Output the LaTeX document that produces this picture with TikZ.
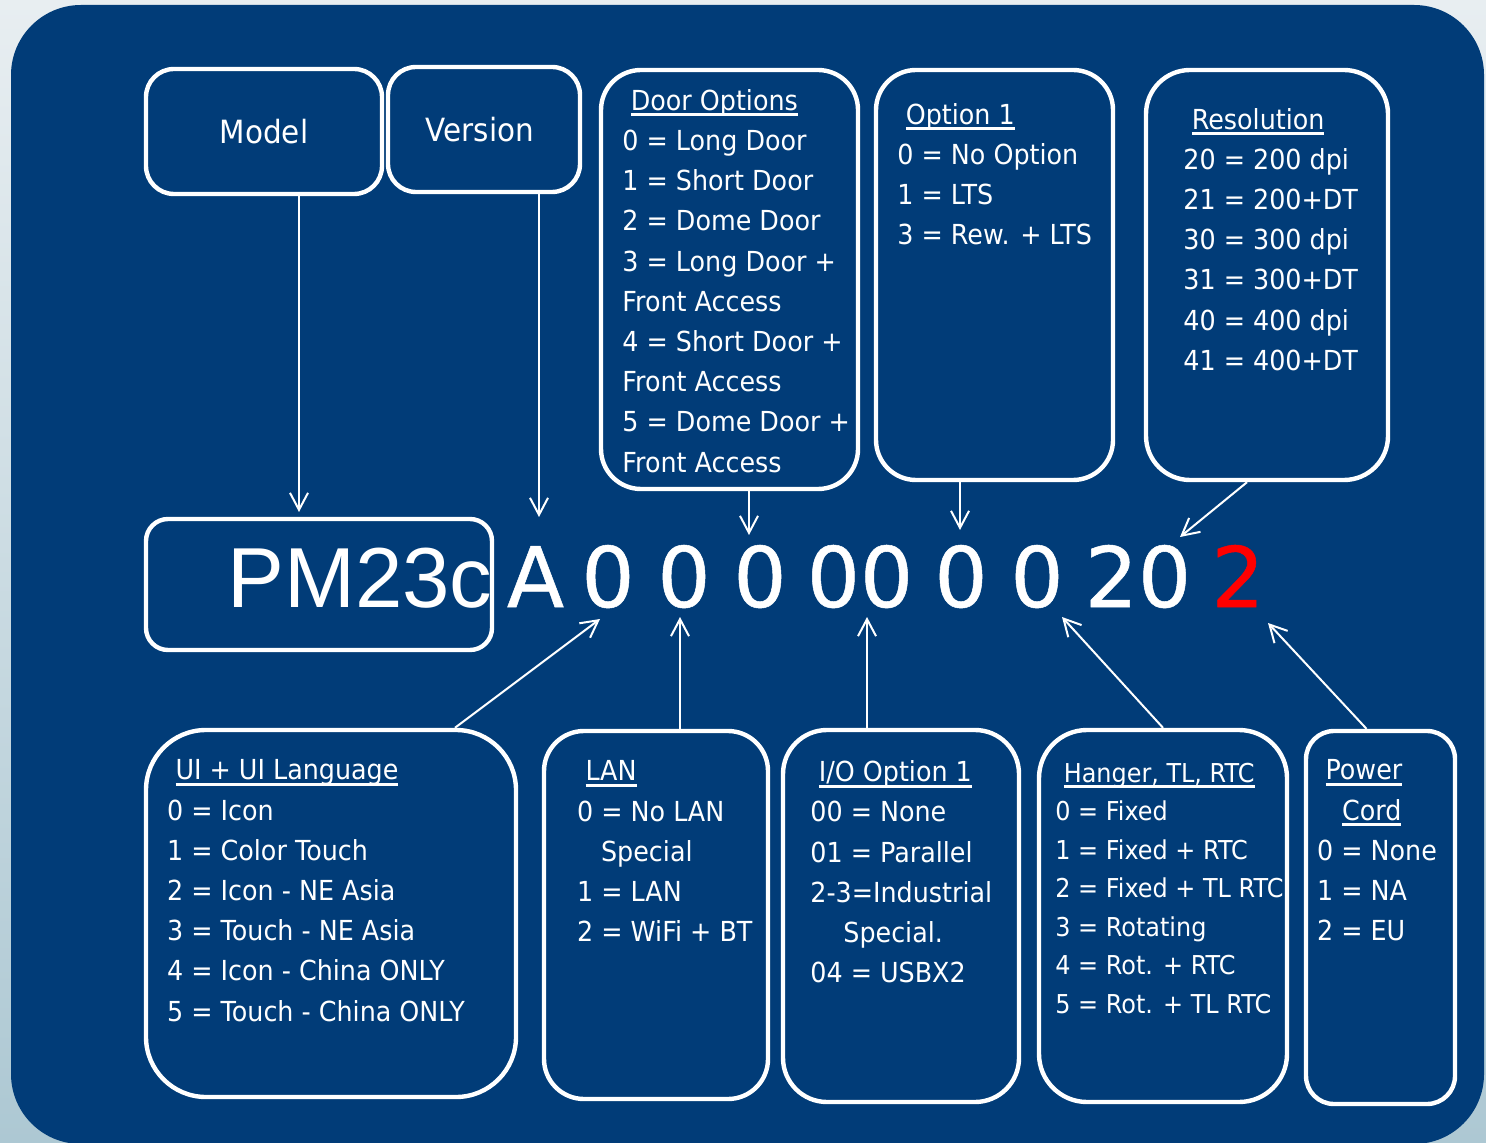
\documentclass[tikz,border=0pt]{standalone}
\usepackage{fontspec}
\setmainfont{DejaVu Sans}[FakeStretch=0.92]
\newfontfamily\codefont{DejaVu Sans}[FakeBold=0.6]
\newfontfamily\modelfont{Liberation Sans}
\usetikzlibrary{positioning, calc, arrows.meta}
\definecolor{panelblue}{HTML}{013C78}
\definecolor{paletop}{HTML}{E8EEF1}
\definecolor{palebottom}{HTML}{ADC8D3}
\newcommand{\hd}[1]{\hspace*{4.2pt}\setbox0=\hbox{#1}\rlap{\rule[-3pt]{\wd0}{1.5pt}}\box0}

\begin{document}
\begin{tikzpicture}[x=0.5pt, y=-0.5pt,
		optbox/.style={draw=white, line width=2.2pt, inner sep=0pt, text=white},
		list/.style={anchor=north west, align=left, inner sep=0pt, text=white, font=\fontsize{13.8}{20.1}\selectfont},
		digit/.style={anchor=base, inner sep=0pt, text=white, font=\codefont\fontsize{41.8}{44}\selectfont},
		pointer/.style={draw=white, line width=1pt, -{Straight Barb[length=8.5pt, width=9pt]}},
	]
		\useasboundingbox (0,0) rectangle (1486,1143);
		\shade[top color=paletop, bottom color=palebottom] (0,0) rectangle (1486,1143);
		\fill[panelblue, rounded corners=35pt] (11,5) rectangle (1484,1144);

		% top row
		\node[optbox, rounded corners=14pt, minimum width=118pt, minimum height=62.5pt, font=\fontsize{16}{19}\selectfont] (model) at (264,131.5) {Model};
		\node[optbox, rounded corners=14pt, minimum width=96pt, minimum height=62.5pt, font=\fontsize{16}{19}\selectfont] (version) at (484,129.5) {\hspace*{-4pt}Version};
		\node[optbox, rounded corners=20pt, minimum width=128.5pt, minimum height=209.5pt] (door) at (729.5,279.5) {};
		\node[optbox, rounded corners=20pt, minimum width=118.5pt, minimum height=205pt] (opt) at (994.5,275) {};
		\node[optbox, rounded corners=22pt, minimum width=121pt, minimum height=205pt] (res) at (1267,275) {};

		\node[list] (door-txt) at (622,89) {\hd{Door Options}\\ 0 = Long Door\\ 1 = Short Door\\ 2 = Dome Door\\ 3 = Long Door +\\ Front Access\\ 4 = Short Door +\\ Front Access\\ 5 = Dome Door +\\ Front Access};
		\node[list] (opt-txt) at (897,102.7) {\hd{Option 1}\\ 0 = No Option\\ 1 = LTS\\ 3 = Rew. + LTS};
		\node[list] (res-txt) at (1183,107.7) {\hd{Resolution}\\ 20 = 200 dpi\\ 21 = 200+DT\\ 30 = 300 dpi\\ 31 = 300+DT\\ 40 = 400 dpi\\ 41 = 400+DT};

		% part number
		\node[optbox, rounded corners=11pt, minimum width=173pt, minimum height=65.5pt] (code) at (319,584.5) {};
		\node[anchor=base, inner sep=0pt, text=white, font=\modelfont\fontsize{42.6}{44}\selectfont] (c-model) at (360,607) {PM23c};
		\node[digit] (c-ver) at (535.5,607) {A};
		\node[digit] (c-ui) at (608,607) {0};
		\node[digit] (c-lan) at (684,607) {0};
		\node[digit] (c-door) at (760,607) {0};
		\node[digit] (c-io) at (860,607) {00};
		\node[digit] (c-opt) at (961,607) {0};
		\node[digit] (c-hang) at (1037,607) {0};
		\node[digit] (c-res) at (1138,607) {20};
		\node[digit, text=red] (c-cord) at (1238,607) {2};

		% bottom row
		\node[optbox, rounded corners=30pt, minimum width=185pt, minimum height=183.5pt] (ui) at (331,913.5) {};
		\node[optbox, rounded corners=20pt, minimum width=112pt, minimum height=184pt] (lan) at (656,915) {};
		\node[optbox, rounded corners=22pt, minimum width=118pt, minimum height=186pt] (io) at (901,916) {};
		\node[optbox, rounded corners=24pt, minimum width=124pt, minimum height=186pt] (hang) at (1163,916) {};
		\node[optbox, rounded corners=14pt, minimum width=74.5pt, minimum height=186.5pt] (cord) at (1380.5,917.5) {};

		\node[list] (ui-txt) at (166.7,759.4) {\hd{UI + UI Language}\\ 0 = Icon\\ 1 = Color Touch\\ 2 = Icon - NE Asia\\ 3 = Touch - NE Asia\\ 4 = Icon - China ONLY\\ 5 = Touch - China ONLY};
		\node[list] (lan-txt) at (576.7,760.4) {\hd{LAN}\\ 0 = No LAN\\ \hspace*{12pt}Special\\ 1 = LAN\\ 2 = WiFi + BT};
		\node[list] (io-txt) at (810,760.4) {\hd{I/O Option 1}\\ 00 = None\\ 01 = Parallel\\ 2-3=Industrial\\ \hspace*{16.5pt}Special.\\ 04 = USBX2};
		\node[list, font=\fontsize{13}{19.25}\selectfont] (hang-txt) at (1055,762.3) {\hd{Hanger, TL, RTC}\\ 0 = Fixed\\ 1 = Fixed + RTC\\ 2 = Fixed + TL RTC\\ 3 = Rotating\\ 4 = Rot. + RTC\\ 5 = Rot. + TL RTC};
		\node[list] (cord-txt) at (1316.7,759.4) {\hd{Power}\\ \hspace*{8.3pt}\hd{Cord}\\ 0 = None\\ 1 = NA\\ 2 = EU};

		% arrow tips
		\coordinate (model-tip) at (299,512);
		\coordinate (version-tip) at (539,517);
		\coordinate (door-tip) at (749,535);
		\coordinate (opt-tip) at (960,530);
		\coordinate (res-tip) at (1180,537);
		\coordinate (ui-tip) at (600,619);
		\coordinate (lan-tip) at (680,617);
		\coordinate (io-tip) at (867,617);
		\coordinate (hang-tip) at (1062,617);
		\coordinate (cord-tip) at (1268,623);

		\draw[pointer] (model.south -| model-tip) -- (model-tip);
		\draw[pointer] (version.south -| version-tip) -- (version-tip);
		\draw[pointer] (door.south -| door-tip) -- (door-tip);
		\draw[pointer] (opt.south -| opt-tip) -- (opt-tip);
		\draw[pointer] ($(res.south)+(-20,0)$) -- (res-tip);
		\draw[pointer] ($(ui.north)+(124,0)$) -- (ui-tip);
		\draw[pointer] (lan.north -| lan-tip) -- (lan-tip);
		\draw[pointer] (io.north -| io-tip) -- (io-tip);
		\draw[pointer] (hang.north) -- (hang-tip);
		\draw[pointer] ($(cord.north)+(-14,0)$) -- (cord-tip);
	\end{tikzpicture}
\end{document}
